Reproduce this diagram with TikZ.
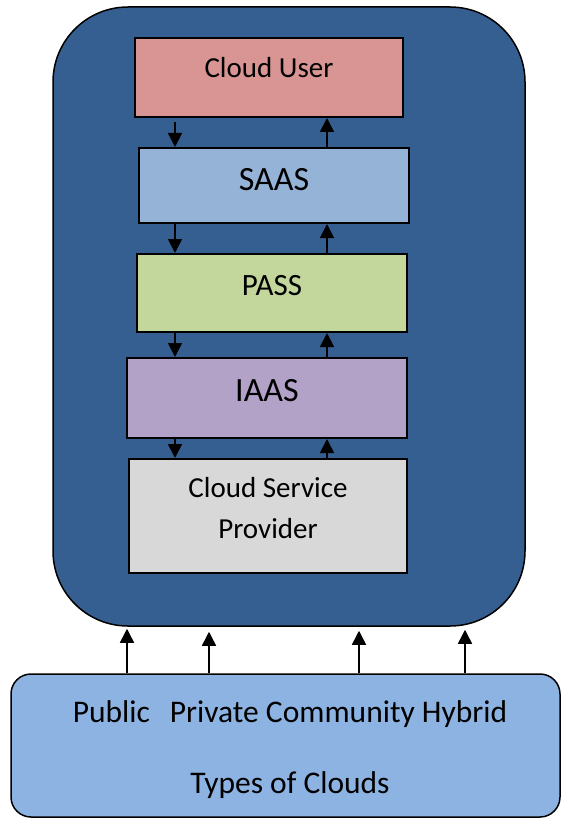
\documentclass[tikz,border=0pt]{standalone}
\usepackage{fontspec}
\setmainfont{Carlito}
\usetikzlibrary{arrows.meta}

\definecolor{panelblue}{RGB}{54,95,145}
\definecolor{cloudsblue}{RGB}{141,179,226}
\definecolor{userred}{RGB}{217,149,148}
\definecolor{saasblue}{RGB}{149,179,215}
\definecolor{passgreen}{RGB}{195,214,155}
\definecolor{iaaspurple}{RGB}{178,162,199}
\definecolor{provgrey}{RGB}{216,216,216}

\tikzset{
  layer/.style={draw=black, line width=2pt, rectangle, inner sep=0pt, align=center},
  flow/.style={draw=black, line width=1.8pt, -{Triangle[length=14pt,width=14pt]}},
  feed/.style={draw=black, line width=1.5pt, -{Triangle[length=14pt,width=14pt]}},
}

\begin{document}
\begin{tikzpicture}[x=1pt, y=-1pt]
\useasboundingbox (0,0) rectangle (560,818);

% outer cloud panel
\node[draw=black, line width=1.5pt, fill=panelblue, rounded corners=75pt,
      minimum width=472pt, minimum height=619pt] (panel) at (289,316.5) {};

% service layers
\node[layer, fill=userred, minimum width=268pt, minimum height=79pt,
      font=\fontsize{29}{35}\selectfont, text height=18.7pt, text depth=19pt]
      (user) at (269,77.5) {Cloud User};
\node[layer, fill=saasblue, minimum width=270pt, minimum height=75pt,
      font=\fontsize{34}{40}\selectfont, text height=21.9pt, text depth=11pt]
      (saas) at (274,185.5) {SAAS};
\node[layer, fill=passgreen, minimum width=270pt, minimum height=78pt,
      font=\fontsize{31}{37}\selectfont, text height=20pt, text depth=16pt]
      (pass) at (272,293) {PASS};
\node[layer, fill=iaaspurple, minimum width=280pt, minimum height=80pt,
      font=\fontsize{34}{40}\selectfont, text height=21.9pt, text depth=15pt]
      (iaas) at (267,398) {IAAS};
\node[layer, fill=provgrey, minimum width=278pt, minimum height=114pt,
      font=\fontsize{29}{41}\selectfont, text height=45.7pt, text depth=0pt]
      (prov) at (268,516) {Cloud Service\\Provider};

% cloud types
\node[draw=black, line width=1.5pt, fill=cloudsblue, rounded corners=20pt,
      minimum width=549pt, minimum height=143pt,
      label={[font=\fontsize{31.5}{71}\selectfont, align=center, inner sep=0pt,
              text height=95.3pt, text depth=0pt, xshift=4.5pt]center:
              Public\hspace{20pt}Private Community Hybrid\\Types of Clouds}]
      (types) at (285.5,745.5) {};

% arrow columns
\coordinate (down) at (175,0);
\coordinate (up) at (327,0);
\coordinate (pub) at (127,0);
\coordinate (priv) at (209,0);
\coordinate (comm) at (359,0);
\coordinate (hyb) at (465,0);

\draw[flow] ([yshift=-4pt]user.south -| down) -- (saas.north -| down);
\draw[flow] (saas.north -| up) -- (user.south -| up);
\draw[flow] (saas.south -| down) -- (pass.north -| down);
\draw[flow] (pass.north -| up) -- (saas.south -| up);
\draw[flow] (pass.south -| down) -- (iaas.north -| down);
\draw[flow] (iaas.north -| up) -- (pass.south -| up);
\draw[flow] (iaas.south -| down) -- (prov.north -| down);
\draw[flow] (prov.north -| up) -- (iaas.south -| up);

\draw[feed] (types.north -| pub) -- ([yshift=-2pt]panel.south -| pub);
\draw[feed] (types.north -| priv) -- ([yshift=-5pt]panel.south -| priv);
\draw[feed] (types.north -| comm) -- ([yshift=-4pt]panel.south -| comm);
\draw[feed] (types.north -| hyb) -- ([yshift=-3pt]panel.south -| hyb);
\end{tikzpicture}
\end{document}
